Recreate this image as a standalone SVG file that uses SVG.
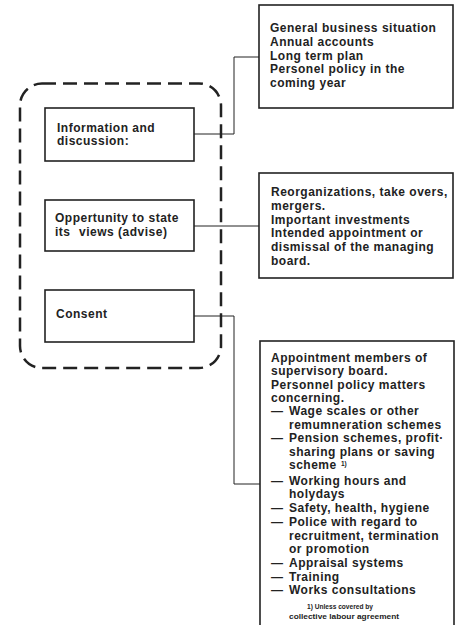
<svg xmlns="http://www.w3.org/2000/svg" width="458" height="625" viewBox="0 0 458 625">
<style>
.box{fill:#fff;stroke:#222;stroke-width:1.6}
.t{font-family:"Liberation Sans",Arial,sans-serif;font-size:12px;font-weight:bold;fill:#222;letter-spacing:0.5px}
.s{font-family:"Liberation Sans",Arial,sans-serif;font-size:7.5px;font-weight:bold;fill:#222}
.c{fill:none;stroke:#222;stroke-width:1}
</style>
<rect width="458" height="625" fill="#fff"/>
<g id="group">
<rect x="20" y="83.5" width="201" height="284.5" rx="22" ry="22" fill="none" stroke="#222" stroke-width="2.5" stroke-dasharray="14 7"/>
</g>
<g id="connectors">
<polyline class="c" points="194,134 234,134 234,57 259,57"/>
<line class="c" x1="194" y1="226" x2="259" y2="226"/>
<polyline class="c" points="194,316 234,316 234,484 260,484"/>
</g>
<g id="info">
<rect class="box" x="45" y="108" width="149" height="53"/>
<text class="t" x="57" y="132">Information and</text>
<text class="t" x="57" y="145">discussion:</text>
</g>
<g id="advise">
<rect class="box" x="45" y="200" width="149" height="51"/>
<text class="t" x="55" y="222">Oppertunity to state</text>
<text class="t" x="55" y="236">its</text><text class="t" x="79" y="236">views (advise)</text>
</g>
<g id="consent">
<rect class="box" x="45" y="290" width="149" height="52"/>
<text class="t" x="56" y="318">Consent</text>
</g>
<g id="box1">
<rect class="box" x="259" y="5" width="194" height="103"/>
<text class="t" x="270" y="32">General business situation</text>
<text class="t" x="270" y="46">Annual accounts</text>
<text class="t" x="270" y="60">Long term plan</text>
<text class="t" x="270" y="73">Personel policy in the</text>
<text class="t" x="270" y="87">coming year</text>
</g>
<g id="box2">
<rect class="box" x="259" y="173" width="194" height="105"/>
<text class="t" x="271" y="196">Reorganizations, take overs,</text>
<text class="t" x="271" y="210">mergers.</text>
<text class="t" x="271" y="224">Important investments</text>
<text class="t" x="271" y="237">Intended appointment or</text>
<text class="t" x="271" y="251">dismissal of the managing</text>
<text class="t" x="271" y="265">board.</text>
</g>
<g id="box3">
<rect class="box" x="260" y="341" width="194" height="290"/>
<text class="t" x="271" y="362">Appointment members of</text>
<text class="t" x="271" y="375">supervisory board.</text>
<text class="t" x="271" y="389">Personnel policy matters</text>
<text class="t" x="271" y="402">concerning.</text>
<text class="t" x="271" y="415">—</text><text class="t" x="289" y="415">Wage scales or other</text>
<text class="t" x="289" y="429">remumneration schemes</text>
<text class="t" x="271" y="442">—</text><text class="t" x="289" y="442">Pension schemes, profit·</text>
<text class="t" x="289" y="456">sharing plans or saving</text>
<text class="t" x="289" y="469">scheme</text><text class="s" x="341" y="466" style="font-size:6.5px">1)</text>
<text class="t" x="271" y="485">—</text><text class="t" x="289" y="485">Working hours and</text>
<text class="t" x="289" y="498">holydays</text>
<text class="t" x="271" y="512">—</text><text class="t" x="289" y="512">Safety, health, hygiene</text>
<text class="t" x="271" y="526">—</text><text class="t" x="289" y="526">Police with regard to</text>
<text class="t" x="289" y="540">recruitment, termination</text>
<text class="t" x="289" y="553">or promotion</text>
<text class="t" x="271" y="567">—</text><text class="t" x="289" y="567">Appraisal systems</text>
<text class="t" x="271" y="581">—</text><text class="t" x="289" y="581">Training</text>
<text class="t" x="271" y="594">—</text><text class="t" x="289" y="594">Works consultations</text>
<text class="s" x="307" y="609" textLength="66" lengthAdjust="spacingAndGlyphs">1) Unless covered by</text>
<text class="s" x="289" y="619" textLength="110" lengthAdjust="spacingAndGlyphs">collective labour agreement</text>
</g>
</svg>
